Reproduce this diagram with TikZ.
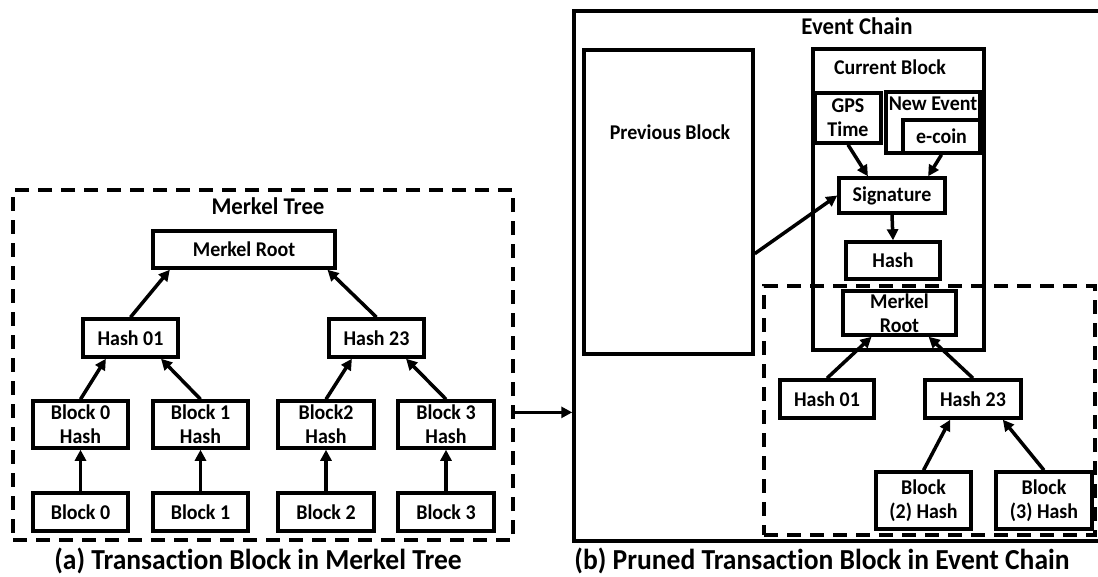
\documentclass[tikz,border=0pt]{standalone}
\usepackage{fontspec}
\setmainfont{Carlito}[Ligatures=NoCommon, FakeStretch=0.95]
\usetikzlibrary{arrows.meta,calc}
\tikzset{
  bx/.style={draw, line width=3.5pt, inner sep=0pt, align=center, font=\bfseries\fontsize{21}{24}\selectfont},
  lbl/.style={inner sep=0pt, align=center, font=\bfseries\fontsize{21}{24}\selectfont},
  ttl/.style={inner sep=0pt, align=center, font=\bfseries\fontsize{24}{28}\selectfont},
  captext/.style={inner sep=0pt, font=\bfseries\fontsize{29}{33}\selectfont},
  dbox/.style={draw, line width=3.5pt, dash pattern=on 14pt off 9pt, inner sep=0pt},
  frame/.style={draw, line width=3.5pt, inner sep=0pt},
  arr/.style={line width=3.5pt, -{Triangle[length=11pt,width=11pt]}},
}
\begin{document}
\begin{tikzpicture}[x=1pt,y=-1pt]
\useasboundingbox (0,0) rectangle (1098,576);
% ---------- (a) Merkel tree ----------
\node[dbox, minimum width=500, minimum height=350] (mt) at (263,365) {};
\node[ttl] (mttitle) at (268,206) {Merkel Tree};
\node[bx, minimum width=182, minimum height=37] (mr) at (244,249.5) {Merkel Root};
\node[bx, minimum width=95, minimum height=38] (h01) at (130.5,338) {Hash 01};
\node[bx, minimum width=95, minimum height=38] (h23) at (376.5,338) {Hash 23};
\node[bx, minimum width=95, minimum height=47] (b0h) at (80.5,424.5) {Block 0\\Hash};
\node[bx, minimum width=95, minimum height=47] (b1h) at (200.5,424.5) {Block 1\\Hash};
\node[bx, minimum width=96, minimum height=47] (b2h) at (326,424.5) {Block2\\Hash};
\node[bx, minimum width=96, minimum height=47] (b3h) at (446,424.5) {Block 3\\Hash};
\node[bx, minimum width=95, minimum height=38] (b0) at (80.5,512) {Block 0};
\node[bx, minimum width=95, minimum height=38] (b1) at (200.5,512) {Block 1};
\node[bx, minimum width=96, minimum height=38] (b2) at (326,512) {Block 2};
\node[bx, minimum width=96, minimum height=38] (b3) at (446,512) {Block 3};
\draw[arr] (b0) -- (b0h);
\draw[arr] (b1) -- (b1h);
\draw[arr] (b2) -- (b2h);
\draw[arr] (b3) -- (b3h);
\draw[arr] (b0h.north) -- ($(h01.south west)!0.25!(h01.south east)$);
\draw[arr] (b1h.north) -- ($(h01.south west)!0.81!(h01.south east)$);
\draw[arr] (b2h.north) -- ($(h23.south west)!0.25!(h23.south east)$);
\draw[arr] (b3h.north) -- ($(h23.south west)!0.80!(h23.south east)$);
\draw[arr] (h01.north) -- ($(mr.south west)!0.10!(mr.south east)$);
\draw[arr] (h23.north) -- ($(mr.south west)!0.95!(mr.south east)$);
\node[captext] (capa) at (258,561) {(a) Transaction Block in Merkel Tree};
% ---------- (b) Event chain ----------
\node[frame, minimum width=530, minimum height=530] (ec) at (839,276) {};
\node[ttl] (ectitle) at (857,26) {Event Chain};
\node[frame, minimum width=169, minimum height=304] (pb) at (668.5,202) {};
\node[lbl] (pbt) at (670,132) {Previous Block};
\node[frame, minimum width=171, minimum height=301] (cb) at (898.5,199.5) {};
\node[lbl] (cbt) at (890,67) {Current Block};
\node[bx, minimum width=66, minimum height=50] (gps) at (848,118) {GPS\\Time};
\node[frame, minimum width=94, minimum height=61] (ne) at (933,122.5) {};
\node[lbl] (net) at (933,104) {New Event};
\node[bx, minimum width=77, minimum height=33] (coin) at (941.5,136.5) {e-coin};
\node[bx, minimum width=106, minimum height=35] (sig) at (892,195.5) {Signature};
\node[bx, minimum width=94, minimum height=37] (hash) at (893,260.5) {Hash};
\node[dbox, minimum width=331, minimum height=249] (pr) at (929.5,410.5) {};
\node[bx, minimum width=113, minimum height=44] (mr2) at (899.5,313) {Merkel\\Root};
\node[bx, minimum width=94, minimum height=38] (h01b) at (827,399) {Hash 01};
\node[bx, minimum width=96, minimum height=38] (h23b) at (973,399) {Hash 23};
\node[bx, minimum width=95, minimum height=57] (b2b) at (923.5,500.5) {Block\\(2) Hash};
\node[bx, minimum width=96, minimum height=57] (b3b) at (1044,500.5) {Block\\(3) Hash};
\draw[arr] (gps.south) -- ($(sig.north west)!0.28!(sig.north east)$);
\draw[arr] (coin.south) -- ($(sig.north west)!0.83!(sig.north east)$);
\draw[arr] (sig.south) -- (hash.north);
\draw[arr] ($(pb.north east)!0.668!(pb.south east)$) -- (sig.west);
\draw[arr] (h01b.north) -- ($(mr2.south west)!0.26!(mr2.south east)$);
\draw[arr] (h23b.north) -- ($(mr2.south west)!0.75!(mr2.south east)$);
\draw[arr] (b2b.north) -- ($(h23b.south west)!0.27!(h23b.south east)$);
\draw[arr] (b3b.north) -- ($(h23b.south west)!0.80!(h23b.south east)$);
\node[captext] (capb) at (822,561) {(b) Pruned Transaction Block in Event Chain};
% ---------- link ----------
\coordinate (ls) at ($(mt.north east)!0.634!(mt.south east)$);
\draw[arr] (ls) -- (ls -| ec.west);
\end{tikzpicture}
\end{document}
